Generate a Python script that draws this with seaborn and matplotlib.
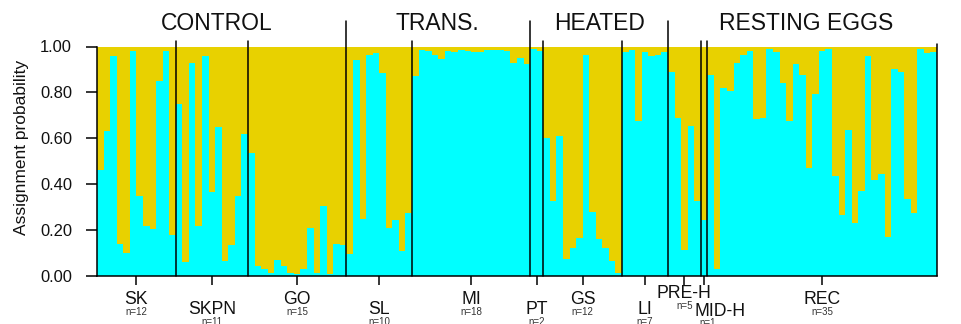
import numpy as np
import pandas as pd
import matplotlib
matplotlib.use("Agg")
import matplotlib.pyplot as plt
import seaborn as sns
from matplotlib.transforms import blended_transform_factory

# ---------------- data ----------------
groups = ["SK", "SKPN", "GO", "SL", "MI", "PT", "GS", "LI", "PRE-H", "MID-H", "REC"]
counts = [12, 11, 15, 10, 18, 2, 12, 7, 5, 1, 35]

sk = [0.46, 0.63, 0.96, 0.14, 0.10, 0.98, 0.35, 0.22, 0.205, 0.85, 0.98, 0.18]
skpn = [0.75, 0.06, 0.93, 0.22, 0.96, 0.365, 0.65, 0.065, 0.135, 0.35, 0.62]
go = [0.535, 0.045, 0.03, 0.015, 0.07, 0.045, 0.015, 0.01, 0.03, 0.21, 0.015,
      0.305, 0.01, 0.14, 0.135]
sl = [0.095, 0.94, 0.25, 0.965, 0.97, 0.885, 0.21, 0.245, 0.11, 0.275]
mi = [0.87, 0.985, 0.98, 0.965, 0.945, 0.98, 0.975, 0.985, 0.98, 0.975, 0.975,
      0.985, 0.985, 0.985, 0.98, 0.93, 0.95, 0.925]
pt = [0.99, 0.98]
gs = [0.60, 0.325, 0.61, 0.075, 0.12, 0.165, 0.965, 0.28, 0.16, 0.12, 0.065, 0.012]
li = [0.975, 0.985, 0.675, 0.975, 0.96, 0.965, 0.975]
preh = [0.89, 0.69, 0.115, 0.655, 0.325]
midh = [0.245]
rec = [0.875, 0.03, 0.82, 0.805, 0.93, 0.965, 0.98, 0.685, 0.69, 0.99, 0.975,
       0.84, 0.675, 0.925, 0.875, 0.47, 0.795, 0.98, 0.99, 0.435, 0.265, 0.635,
       0.23, 0.37, 0.96, 0.42, 0.445, 0.17, 0.9, 0.89, 0.335, 0.275, 0.99, 0.97,
       0.975]

treatments = ["CONTROL", "TRANS.", "HEATED", "RESTING EGGS"]
ytick_vals = [0.0, 0.2, 0.4, 0.6, 0.8, 1.0]
ylabel = "Assignment probability"

# ---------------- styling ----------------
CYAN = "#00FFFF"
YELLOW = "#E8D100"

sns.set_style("ticks")
plt.rcParams["font.family"] = ["Liberation Sans", "DejaVu Sans"]

cyan = sk + skpn + go + sl + mi + pt + gs + li + preh + midh + rec
n = len(cyan)
df = pd.DataFrame({"ind": np.arange(n), "cyan": cyan, "total": np.ones(n)})

W, H = 961, 324
fig = plt.figure(figsize=(W / 100, H / 100), dpi=100)
ax = fig.add_axes([97 / W, 48 / H, 840 / W, 229.5 / H])

sns.barplot(data=df, x="ind", y="total", color=YELLOW, width=1, saturation=1,
            errorbar=None, linewidth=0, ax=ax)
sns.barplot(data=df, x="ind", y="cyan", color=CYAN, width=1, saturation=1,
            errorbar=None, linewidth=0, ax=ax)

ax.set_xlim(-0.5, n - 0.5)
ax.set_ylim(0, 1)
ax.set_xlabel("")

cum = np.cumsum(counts)
starts = cum - np.array(counts)
centers = (starts + cum) / 2 - 0.5

ax.set_xticks(centers)
ax.set_xticklabels([])
ax.tick_params(axis="x", length=6.5, width=1.1, direction="out", colors="black")

ax.set_yticks(ytick_vals)
ax.set_yticklabels([f"{v:.2f}" for v in ytick_vals])
ax.tick_params(axis="y", length=8, width=1.1, pad=10, labelsize=11.9,
               direction="out", colors="black", labelcolor="#111111")

ax.set_ylabel(ylabel, fontsize=12.5, color="#111111")
ax.yaxis.set_label_coords(-0.0815, 0.56)

for s in ["top", "right"]:
    ax.spines[s].set_visible(False)
for s in ["left", "bottom"]:
    ax.spines[s].set_color("black")
    ax.spines[s].set_linewidth(1.1)

# group separators
major_after = {2, 4, 7}
for i, b in enumerate(cum[:-1]):
    top = 1.111 if i in major_after else 1.025
    ax.plot([b - 0.5, b - 0.5], [0, top], color="black", lw=1.1,
            clip_on=False, zorder=5)
ax.plot([n - 0.5, n - 0.5], [0, 1.011], color="black", lw=1.1,
        clip_on=False, zorder=5)

# treatment titles
tr = blended_transform_factory(ax.transData, fig.transFigure)
title_x = [17.7, 51.3, 76.15, 107.6]
for t, x in zip(treatments, title_x):
    fig.text(x, 1 - 23.3 / H, t, transform=tr, ha="center", va="center",
             fontsize=16.5, color="#111111")

# population labels
rows = {"up": (299.5, 312), "low": (309, 322)}
placement = ["up", "low", "up", "low", "up", "low", "up", "low",
             "preh", "midh", "up"]
for g, c, x, p in zip(groups, counts, centers, placement):
    nx = x
    lx = x
    if p == "preh":
        ny_name, ny_n = 293, 306
    elif p == "midh":
        ny_name, ny_n = 312, 323
        lx = x + 2.5
        nx = x + 0.5
    else:
        ny_name, ny_n = rows[p]
    fig.text(lx, 1 - ny_name / H, g, transform=tr, ha="center", va="center",
             fontsize=12.7, color="#111111")
    fig.text(nx, 1 - ny_n / H, f"n={c}", transform=tr, ha="center",
             va="center", fontsize=7, color="#333333")

fig.savefig("out.png", dpi=100)
